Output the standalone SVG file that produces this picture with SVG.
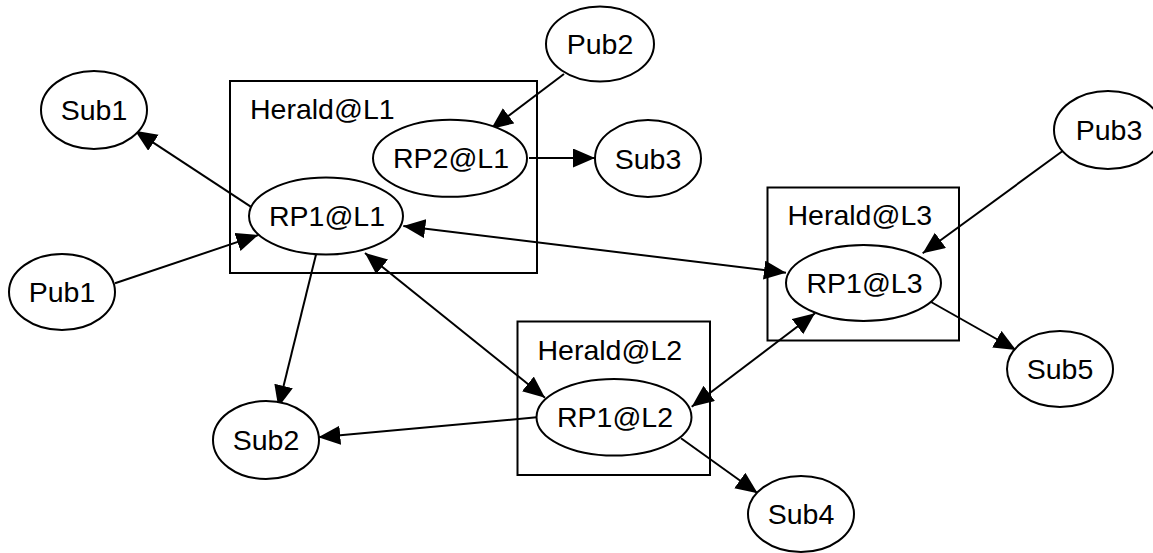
<svg xmlns="http://www.w3.org/2000/svg" width="1153" height="553" viewBox="0 0 1153 553">
<style>
.box{fill:none;stroke:#000;stroke-width:2}
.node{fill:#fff;stroke:#000;stroke-width:2}
.t{font-family:"Liberation Sans",Arial,sans-serif;font-size:28.5px;fill:#000}
.c{text-anchor:middle}
.edge{stroke:#000;stroke-width:2;fill:none;marker-end:url(#ah)}
.both{marker-start:url(#ah)}
</style>
<defs>
<marker id="ah" markerUnits="userSpaceOnUse" markerWidth="23" markerHeight="20" refX="22" refY="9.5" orient="auto-start-reverse" viewBox="0 0 23 20">
<path d="M0,0 L22,9.5 L0,19 z" fill="#000"/>
</marker>
</defs>
<g id="clusters">
<g id="herald-l1"><rect class="box" x="230" y="81" width="307" height="192"/><text class="t" x="250" y="119">Herald@L1</text></g>
<g id="herald-l2"><rect class="box" x="517.5" y="321.5" width="192.5" height="153.5"/><text class="t" x="537.5" y="359.5">Herald@L2</text></g>
<g id="herald-l3"><rect class="box" x="767.5" y="187.5" width="191.5" height="153"/><text class="t" x="787.5" y="225">Herald@L3</text></g>
</g>
<g id="connectors">
<line class="edge" x1="250.7" y1="206.7" x2="135" y2="130.7"/>
<line class="edge" x1="115" y1="283.3" x2="258.3" y2="235"/>
<line class="edge" x1="316" y1="254.5" x2="278.3" y2="407.3"/>
<line class="edge both" x1="365" y1="253" x2="545" y2="397.7"/>
<line class="edge both" x1="403.3" y1="226" x2="786" y2="272.7"/>
<line class="edge" x1="564" y1="74" x2="491" y2="129"/>
<line class="edge" x1="529" y1="158" x2="595" y2="158"/>
<line class="edge" x1="1065" y1="149.3" x2="922.7" y2="253.3"/>
<line class="edge" x1="929.3" y1="301" x2="1016" y2="350"/>
<line class="edge both" x1="815" y1="313.3" x2="691.7" y2="406.7"/>
<line class="edge" x1="536.7" y1="417.3" x2="318.3" y2="437.3"/>
<line class="edge" x1="681" y1="438.3" x2="757.7" y2="493.3"/>
</g>
<g id="sub1"><ellipse class="node" cx="94" cy="110" rx="53" ry="39"/><text class="t c" x="94" y="120">Sub1</text></g>
<g id="pub1"><ellipse class="node" cx="62" cy="292" rx="53" ry="38"/><text class="t c" x="62" y="302">Pub1</text></g>
<g id="sub2"><ellipse class="node" cx="266" cy="440" rx="53" ry="39"/><text class="t c" x="266" y="450">Sub2</text></g>
<g id="pub2"><ellipse class="node" cx="600" cy="44" rx="54" ry="37.5"/><text class="t c" x="600" y="54">Pub2</text></g>
<g id="sub3"><ellipse class="node" cx="648" cy="158.5" rx="53" ry="38.5"/><text class="t c" x="648" y="168.5">Sub3</text></g>
<g id="pub3"><ellipse class="node" cx="1108" cy="130" rx="54" ry="39"/><text class="t c" x="1109" y="140">Pub3</text></g>
<g id="sub5"><ellipse class="node" cx="1060" cy="369" rx="53" ry="38"/><text class="t c" x="1060" y="379">Sub5</text></g>
<g id="sub4"><ellipse class="node" cx="801" cy="514" rx="53" ry="38"/><text class="t c" x="801" y="524">Sub4</text></g>
<g id="rp1-l1"><ellipse class="node" cx="326" cy="216" rx="77" ry="38.5"/><text class="t c" x="327" y="226">RP1@L1</text></g>
<g id="rp2-l1"><ellipse class="node" cx="450" cy="158.3" rx="77" ry="38.5"/><text class="t c" x="451" y="168.3">RP2@L1</text></g>
<g id="rp1-l3"><ellipse class="node" cx="863.5" cy="283" rx="77.5" ry="38"/><text class="t c" x="864.5" y="293">RP1@L3</text></g>
<g id="rp1-l2"><ellipse class="node" cx="614" cy="417.3" rx="77.5" ry="38.3"/><text class="t c" x="615" y="427.3">RP1@L2</text></g>
</svg>
